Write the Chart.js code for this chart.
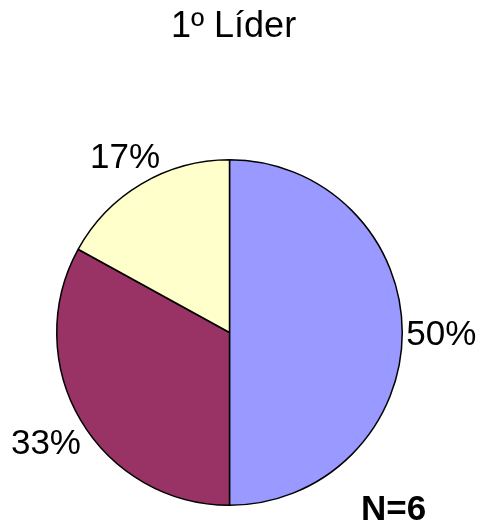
<!DOCTYPE html>
<html>
<head>
<meta charset="utf-8">
<script src="https://cdn.jsdelivr.net/npm/chart.js@4"></script>
<style>
  html, body { margin: 0; padding: 0; background: #fff; }
  #wrap { width: 489px; height: 528px; }
</style>
</head>
<body>
<div id="wrap"><canvas id="pie-chart" width="489" height="528"></canvas></div>
<script>
// dados do gráfico
const title = '1º Líder';
const categories = ['A', 'B', 'C'];
const values = [50, 33, 17];
const valueLabels = ['50%', '33%', '17%'];
const colors = ['#9999FF', '#993366', '#FFFFCC'];
const note = 'N=6';

const FONT = '"Liberation Sans", Arial, sans-serif';

// desenha os rótulos fora das fatias, o título e o N
const labelPlugin = {
    id: 'labelPlugin',
    afterDraw(chart) {
        const ctx = chart.ctx;
        const meta = chart.getDatasetMeta(0);
        ctx.save();
        ctx.fillStyle = '#000';
        ctx.textAlign = 'center';
        ctx.textBaseline = 'alphabetic';
        ctx.font = '35px ' + FONT;
        const capH = 25;
        meta.data.forEach((arc, i) => {
            const mid = (arc.startAngle + arc.endAngle) / 2;
            const w = ctx.measureText(valueLabels[i]).width;
            const cx = Math.cos(mid), cy = Math.sin(mid);
            // distância até a borda da caixa do texto
            const ext = Math.abs(cx) * w / 2 + Math.abs(cy) * capH / 2;
            const r = arc.outerRadius + 4 + ext;
            ctx.fillText(valueLabels[i], arc.x + cx * r, arc.y + cy * r + capH / 2);
        });
        ctx.font = '36px ' + FONT;
        ctx.fillText(title, 233.5, 37);
        ctx.font = 'bold 35px ' + FONT;
        ctx.fillText(note, 393.5, 520);
        ctx.restore();
    }
};

const ctx = document.getElementById('pie-chart');
new Chart(ctx, {
    type: 'pie',
    data: {
        labels: categories,
        datasets: [{
            data: values,
            backgroundColor: colors,
            borderColor: '#000',
            borderWidth: 1.5
        }]
    },
    options: {
        responsive: false,
        animation: false,
        layout: {
            padding: { left: 56, right: 86, top: 159, bottom: 22 }
        },
        plugins: {
            legend: { display: false },
            tooltip: { enabled: false }
        }
    },
    plugins: [labelPlugin]
});
</script>
</body>
</html>
